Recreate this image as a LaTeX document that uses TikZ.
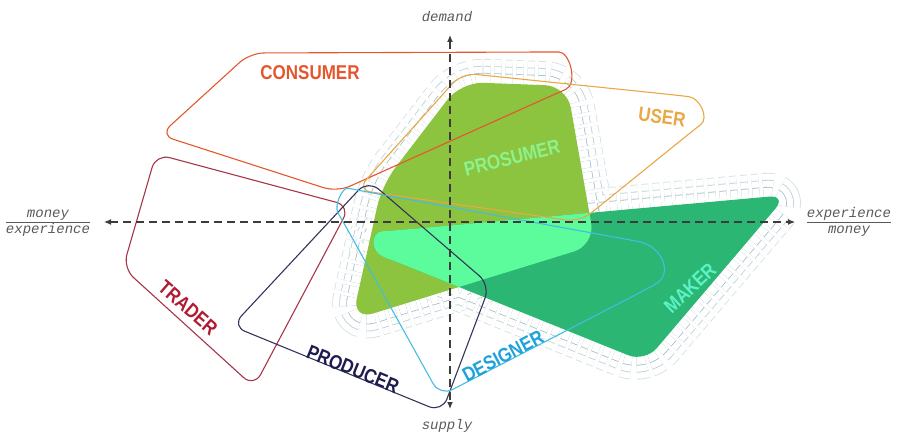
\documentclass[tikz,border=0pt]{standalone}
\usepackage{fontspec}
\usetikzlibrary{arrows.meta}

\newfontfamily\tagfont[FakeStretch=0.85]{Liberation Sans}
\newfontfamily\axfont{Liberation Mono}

\definecolor{consumerc}{HTML}{E4572E}
\definecolor{userc}{HTML}{E9A845}
\definecolor{prosumerc}{HTML}{8CC33F}
\definecolor{prosumertext}{HTML}{8CF28C}
\definecolor{makerc}{HTML}{2BB673}
\definecolor{makertext}{HTML}{5CF2C8}
\definecolor{overlapc}{HTML}{5CFB9C}
\definecolor{traderc}{HTML}{A8344A}
\definecolor{tradertext}{HTML}{B01B34}
\definecolor{producerc}{HTML}{35345A}
\definecolor{producertext}{HTML}{1E1B50}
\definecolor{designerc}{HTML}{45BCE0}
\definecolor{designertext}{HTML}{1FA2DC}
\definecolor{haloc}{HTML}{A3C0C5}
\definecolor{axisc}{HTML}{3C3C3C}

\newcommand{\prosumershape}{(461,82) -- (567,86) -- (595,245) -- (352,320) -- (382,185) -- cycle}
\newcommand{\makershape}{(402,264) .. controls (368,251) and (372,232) .. (400,230) -- (787,195) -- (645,362) -- cycle}

\begin{document}
\begin{tikzpicture}[x=1pt,y=-1pt,
    outline/.style={line width=1.1pt, rounded corners=14pt},
    tag/.style={font=\tagfont\bfseries\fontsize{20}{20}\selectfont, inner sep=0pt},
    axis/.style={axisc, line width=1.2pt, dash pattern=on 8pt off 5pt,
      {Latex[length=7pt,width=6pt]}-{Latex[length=7pt,width=6pt]}},
    axlabel/.style={font=\axfont\itshape\fontsize{14}{16}\selectfont, text=axisc!85, inner sep=1pt}]
    \useasboundingbox (0,0) rectangle (898,436);

    % dashed halo round the filled areas
    \foreach \d/\c [evaluate=\d as \w using 2*\d, evaluate=\d as \v using 2*\d-1.6] in {24/haloc!50,17/haloc!75,10/haloc} {
        \draw[\c, line width=\w pt, line join=round, rounded corners=22pt, dash pattern=on 7pt off 4pt] \prosumershape \makershape;
        \draw[white, line width=\v pt, line join=round, rounded corners=22pt, dash pattern=on 7pt off 4pt] \prosumershape \makershape;
    }

    \fill[prosumerc, rounded corners=22pt] \prosumershape;
    \fill[makerc, rounded corners=18pt] \makershape;
    \begin{scope}
        \clip[rounded corners=22pt] \prosumershape;
        \fill[overlapc, rounded corners=18pt] \makershape;
    \end{scope}

    \draw[outline, consumerc] (545,52) .. controls (570,52) and (578,84) .. (553,95) -- (337,192) -- (160,135) -- (250,53) -- cycle;
    \draw[outline, userc] (675,95) .. controls (700,98) and (709,118) .. (690,133) -- (580,222) -- (357,190) -- (462,73) -- cycle;
    \draw[outline, traderc] (156,154) -- (350,206) -- (254,387) -- (123,268) -- cycle;
    \draw[outline, producerc] (368,180) -- (490,285) -- (442,412) -- (232,326) -- cycle;
    \draw[outline, designerc] (345,225) .. controls (334,206) and (342,187) .. (362,191) -- (625,239) .. controls (662,246) and (674,274) .. (643,291) -- (440,396) -- cycle;

    \coordinate (west) at (104,222);
    \coordinate (east) at (795,222);
    \coordinate (north) at (450,35);
    \coordinate (south) at (450,409);
    \draw[axis] (west) -- (east);
    \draw[axis] (north) -- (south);

    \node[axlabel] (demand) at (447,17) {demand};
    \node[axlabel] (supply) at (447,426) {supply};
    \node[axlabel] (leftratio) at (48,222) {\begin{tabular}{@{}c@{}}money\\\hline experience\end{tabular}};
    \node[axlabel] (rightratio) at (849,222) {\begin{tabular}{@{}c@{}}experience\\\hline money\end{tabular}};

    \node[tag, text=consumerc] (consumer) at (310,73) {CONSUMER};
    \node[tag, text=userc, rotate=-8] (user) at (662,117) {USER};
    \node[tag, text=prosumertext, rotate=14] (prosumer) at (512,158) {PROSUMER};
    \node[tag, text=makertext, rotate=43] (maker) at (690,288) {MAKER};
    \node[tag, text=tradertext, rotate=-41] (trader) at (188,308) {TRADER};
    \node[tag, text=producertext, rotate=-22] (producer) at (353,369) {PRODUCER};
    \node[tag, text=designertext, rotate=28] (designer) at (503,356) {DESIGNER};
\end{tikzpicture}
\end{document}
